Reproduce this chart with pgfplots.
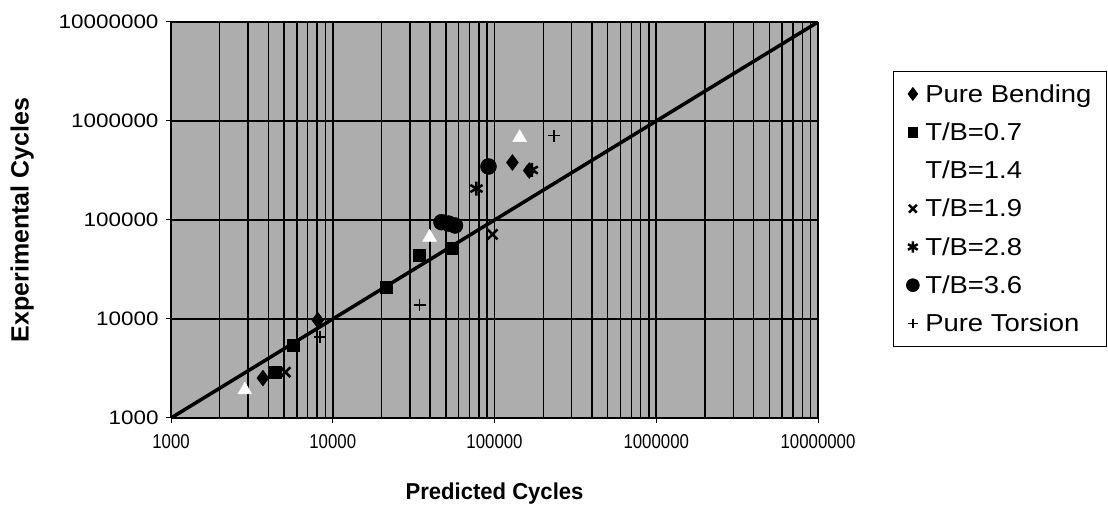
\documentclass[border=0pt]{standalone}
\usepackage{pgfplots}
\pgfplotsset{compat=1.18}
\usepackage{fontspec}
\setmainfont{Liberation Sans}
\usepackage{graphicx}
% horizontal stretch of a piece of text
\newcommand{\hs}[2]{\scalebox{#1}[1]{#2}}
% legend text, set a little apart from its marker
\newcommand{\lt}[1]{\hspace{4pt}\hs{1.12}{#1}}

\begin{document}
\begin{tikzpicture}[x=1pt,y=1pt]
\path[use as bounding box] (0,0) rectangle (1108,512);
\begin{axis}[
  at={(171pt,94pt)}, anchor=south west,
  scale only axis, width=647pt, height=396pt,
  xmode=log, ymode=log,
  xmin=1000, xmax=1e7, ymin=1000, ymax=1e7,
  axis x line*=bottom, axis y line*=left,
  axis line style={black, line width=1.2pt},
  axis background/.style={fill=black!32},
  xmajorgrids=true, ymajorgrids=true, xminorgrids=true,
  major grid style={black, line width=1.7pt},
  minor grid style={black, line width=1.4pt},
  tick align=outside, major tick length=5pt, minor tick length=0pt,
  tick style={black, line width=1pt},
  xtick={1000,10000,100000,1000000,10000000},
  xticklabels={\hs{0.84}{1000},\hs{0.84}{10000},\hs{0.84}{100000},\hs{0.84}{1000000},\hs{0.84}{10000000}},
  ytick={1000,10000,100000,1000000,10000000},
  yticklabels={\hs{1.15}{1000},\hs{1.15}{10000},\hs{1.15}{100000},\hs{1.15}{1000000},\hs{1.15}{10000000}},
  xticklabel style={font=\fontsize{20}{23}\selectfont, yshift=-8pt},
  yticklabel style={font=\fontsize{19.5}{22}\selectfont, xshift=-4pt},
  xlabel={\hs{0.96}{Predicted Cycles}},
  ylabel={Experimental Cycles},
  xlabel style={font=\fontsize{23}{26}\selectfont\bfseries, at={(axis description cs:0.5,-0.192)}, anchor=center},
  ylabel style={font=\fontsize{25}{28}\selectfont\bfseries, at={(axis description cs:-0.230,0.5)}, anchor=center},
  legend style={at={(1.116,0.8765)}, anchor=north west, draw=black, line width=0.8pt,
    font=\fontsize{24.5}{27}\selectfont, row sep=15pt, inner xsep=13pt, inner ysep=11pt,
    cells={anchor=west}},
  legend image post style={scale=0.8},
]
% line of perfect agreement
\addplot[black, line width=3.5pt, forget plot] coordinates {(1000,1000) (10000000,10000000)};

\addplot[only marks, mark=diamond*, mark size=8pt, black] coordinates {
  (3700,2530) (8080,9730) (129000,381000) (164000,316000)};
\addlegendentry{\lt{Pure Bending}}

\addplot[only marks, mark=square*, mark size=6pt, black] coordinates {
  (4390,2910) (5660,5440) (21500,20900) (34400,44000) (54300,51700)};
\addlegendentry{\lt{T/B=0.7}}

\addplot[only marks, mark=triangle*, mark size=8pt, white, mark options={fill=white, draw=white}] coordinates {
  (2860,1920) (39700,66800) (143000,680000)};
\addlegendentry{\lt{T/B=1.4}}

\addplot[only marks, mark=x, mark size=7pt, black, line width=2.5pt] coordinates {
  (5100,2900) (97200,71600)};
\addlegendentry{\lt{T/B=1.9}}

\addplot[only marks, mark=asterisk, mark size=7pt, black, line width=2.5pt] coordinates {
  (77400,208000) (170000,320000)};
\addlegendentry{\lt{T/B=2.8}}

\addplot[only marks, mark=*, mark size=8pt, black] coordinates {
  (47000,95000) (52000,92000) (57000,88000) (91800,347000)};
\addlegendentry{\lt{T/B=3.6}}

\addplot[only marks, mark=+, mark size=6pt, black, line width=1.5pt] coordinates {
  (8310,6550) (34400,13800) (234000,713000)};
\addlegendentry{\lt{Pure Torsion}}
\end{axis}
\end{tikzpicture}
\end{document}
